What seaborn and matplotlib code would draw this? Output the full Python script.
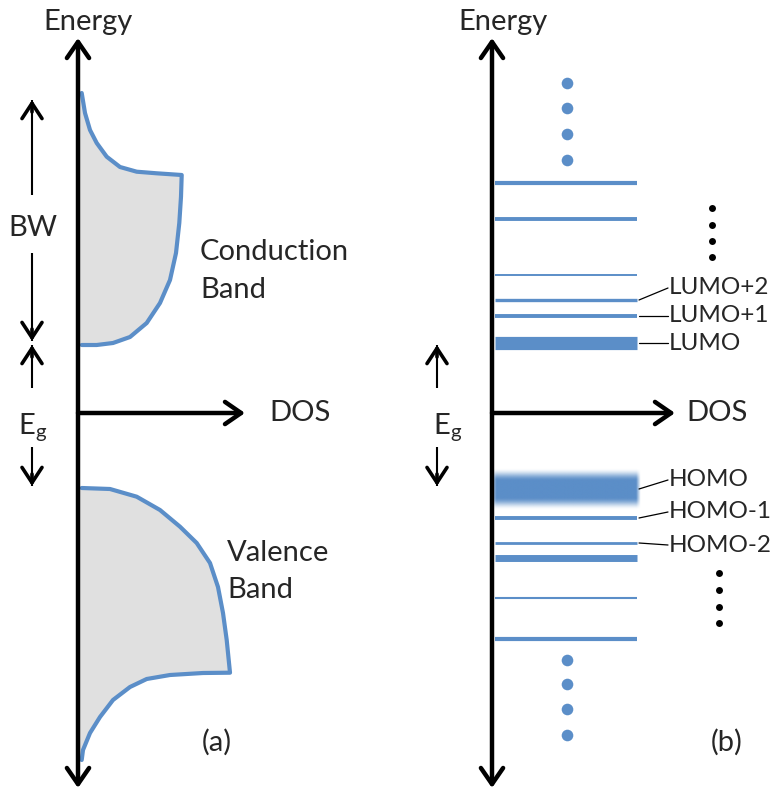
import numpy as np
import matplotlib
matplotlib.use("Agg")
import matplotlib.pyplot as plt
import seaborn as sns
import pandas as pd

sns.set_theme(style="white")
plt.rcParams['font.family'] = ['Lato', 'DejaVu Sans']

# ---------------- data (pixel-like schematic units) ---------
# Conduction band outline (DOS, energy) — energy grows downward in this pixel frame
cb_dos = [81.7, 85, 90, 96.7, 106.7, 120, 136.7, 156.7, 181.7,
          181, 179.3, 176, 170, 160, 146.7, 130, 113, 96.7, 81.7]
cb_e   = [93, 113, 130, 143, 156.7, 167, 171.7, 173.3, 175,
          196.7, 223, 253, 280, 303, 323, 337, 343, 345, 345]
# Valence band outline
vb_dos = [81.7, 110, 136.7, 160, 180, 196.7, 210, 218, 223, 226.7, 230,
          203, 170, 146.7, 130, 113, 100, 90, 83, 81.7]
vb_e   = [488, 489, 496.7, 510, 526.7, 543, 563, 587, 613, 640, 672.7,
          673, 675, 679, 687, 700, 717, 733, 750, 760]

# Molecular levels in panel (b)
level_e = [183, 219, 275, 300, 316, 343, 518, 543, 558, 598, 639]
level_w = [3.0, 2.8, 1.4, 2.4, 2.8, 9.5, 2.8, 2.0, 5.0, 1.5, 3.0]   # line widths (style)
homo_e = 489

level_labels = ["LUMO+2", "LUMO+1", "LUMO", "HOMO", "HOMO-1", "HOMO-2"]
label_level_e = [300, 316, 343, 489, 518, 543]
label_text_e = [288, 316, 343, 480, 512, 545]

dots_blue_top = [83, 108, 134, 160]
dots_blue_bot = [660, 684, 709, 735]
dots_black_top = [208, 225, 241, 257]
dots_black_bot = [573, 590, 607, 623]

BLUE = "#5b8ec8"

fig = plt.figure(figsize=(7.76, 7.91), dpi=100)
ax = fig.add_axes([0, 0, 1, 1])

def frame():
    ax.set_xlim(0, 776)
    ax.set_ylim(791, 0)
    ax.set_xlabel("")
    ax.set_ylabel("")
    ax.axis("off")

# ---------------- panel (a) bands ----------------
for xs, ys in [(cb_dos, cb_e), (vb_dos, vb_e)]:
    ax.fill(xs + [80, 80], ys + [ys[-1], ys[0]], color="#e0e0e0", lw=0, zorder=1)
    df = pd.DataFrame({"dos": xs, "E": ys})
    sns.lineplot(data=df, x="dos", y="E", sort=False, estimator=None,
                 color=BLUE, lw=3.0, ax=ax, zorder=2, solid_joinstyle="round")
frame()

def big_arrow(x0, y0, x1, y1, style="->"):
    ax.annotate("", xy=(x1, y1), xytext=(x0, y0),
                arrowprops=dict(arrowstyle=f"{style},head_length=0.58,head_width=0.4",
                                lw=3.2, color="black", shrinkA=0, shrinkB=0,
                                mutation_scale=20),
                zorder=5)

def small_arrow(x0, y0, x1, y1):
    # thin shaft
    ax.plot([x0, x1], [y0, y1], color="black", lw=1.5, zorder=5, solid_capstyle="butt")
    # bold chevron head
    d = np.sign(y1 - y0)
    ax.annotate("", xy=(x1, y1), xytext=(x1, y1 - d * 12),
                arrowprops=dict(arrowstyle="->,head_length=0.55,head_width=0.36",
                                lw=2.6, color="black", shrinkA=0, shrinkB=0,
                                mutation_scale=20),
                zorder=5)

FS = 21
# axes of panel (a)
big_arrow(78, 788, 78, 38, "<->")
big_arrow(78, 413, 245, 413)
ax.text(88, 22, "Energy", ha="center", va="center", fontsize=FS)
ax.text(300, 413, "DOS", ha="center", va="center", fontsize=FS)

# BW and Eg arrows (a)
small_arrow(32, 195, 32, 100)
ax.text(33, 228, "BW", ha="center", va="center", fontsize=FS)
small_arrow(32, 253, 32, 341)
small_arrow(32, 388, 32, 345)
ax.text(33, 428, r"E$_{\mathregular{g}}$", ha="center", va="center", fontsize=FS)
small_arrow(32, 447, 32, 486)

ax.text(200, 252, "Conduction", ha="left", va="center", fontsize=FS)
ax.text(200, 290, "Band", ha="left", va="center", fontsize=FS)
ax.text(227, 553, "Valence", ha="left", va="center", fontsize=FS)
ax.text(227, 590, "Band", ha="left", va="center", fontsize=FS)
ax.text(217, 742, "(a)", ha="center", va="center", fontsize=FS)

# ---------------- panel (b) ----------------
for e, w in zip(level_e, level_w):
    sns.lineplot(x=[495, 637], y=[e, e], color=BLUE, lw=w, ax=ax, zorder=3,
                 solid_capstyle="butt")
frame()

# blurred HOMO band
ny, nx = 120, 240
yy = np.linspace(-1, 1, ny)[:, None]
xx = np.linspace(0, 1, nx)[None, :]
ay = np.clip((1 - np.abs(yy)) / 0.6, 0, 1)
ay = ay * ay * (3 - 2 * ay)
ax_ = np.clip(np.minimum(xx / 0.04, (1 - xx) / 0.03), 0, 1)
alpha = ay * ax_
rgba = np.zeros((ny, nx, 4))
rgba[..., :3] = matplotlib.colors.to_rgb(BLUE)
rgba[..., 3] = alpha
ax.imshow(rgba, extent=[490, 641, homo_e + 21, homo_e - 21], aspect="auto",
          interpolation="bilinear", zorder=3)
frame()

big_arrow(492, 788, 492, 38, "<->")
big_arrow(492, 413, 675, 413)
ax.text(503, 22, "Energy", ha="center", va="center", fontsize=FS)
ax.text(717, 413, "DOS", ha="center", va="center", fontsize=FS)

small_arrow(437, 388, 437, 345)
ax.text(448, 428, r"E$_{\mathregular{g}}$", ha="center", va="center", fontsize=FS)
small_arrow(437, 447, 437, 486)

# labels with leader lines
for lab, le, te in zip(level_labels, label_level_e, label_text_e):
    ax.plot([639, 668], [le, te], color="black", lw=0.9, zorder=4)
    ax.text(669, te, lab, ha="left", va="center", fontsize=17.5)

# dots
sns.scatterplot(x=[567] * 4, y=dots_blue_top, color=BLUE, s=70, ax=ax, linewidth=0, zorder=4)
sns.scatterplot(x=[567] * 4, y=dots_blue_bot, color=BLUE, s=70, ax=ax, linewidth=0, zorder=4)
sns.scatterplot(x=[712] * 4, y=dots_black_top, color="black", s=25, ax=ax, linewidth=0, zorder=4)
sns.scatterplot(x=[719] * 4, y=dots_black_bot, color="black", s=25, ax=ax, linewidth=0, zorder=4)

ax.text(727, 742, "(b)", ha="center", va="center", fontsize=FS)

frame()
fig.savefig("out.png", dpi=100)
